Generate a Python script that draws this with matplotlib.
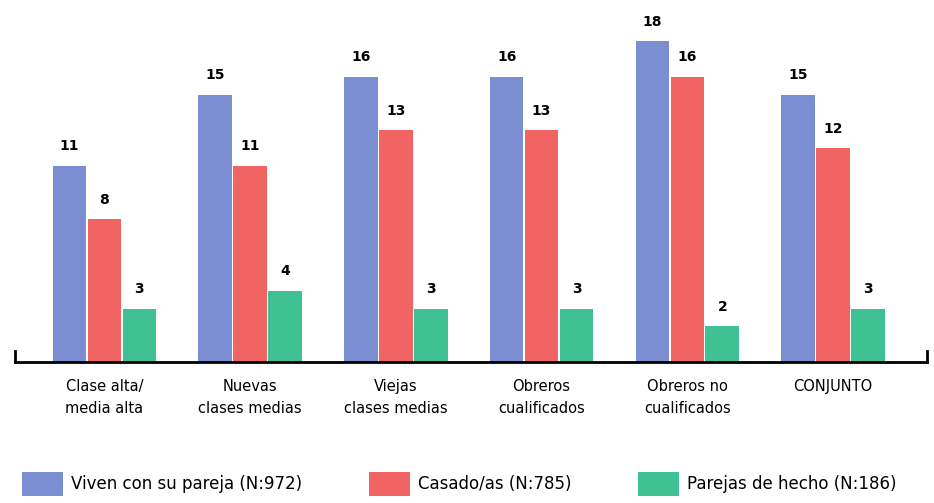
import matplotlib.pyplot as plt
import numpy as np
from matplotlib.patches import Patch

categories = ['Clase alta/\nmedia alta', 'Nuevas\nclases medias', 'Viejas\nclases medias',
              'Obreros\ncualificados', 'Obreros no\ncualificados', 'CONJUNTO']
viven_pareja = [11, 15, 16, 16, 18, 15]
casados = [8, 11, 13, 13, 16, 12]
parejas_hecho = [3, 4, 3, 3, 2, 3]
series_labels = ['Viven con su pareja (N:972)', 'Casado/as (N:785)', 'Parejas de hecho (N:186)']
colors = ['#7b8ed1', '#f06464', '#3fc194']

fig = plt.figure(figsize=(9.34, 5.03), dpi=100)
ax = fig.add_axes([15 / 934, 141 / 503, 912 / 934, 357 / 503])

x = np.arange(len(categories))
w = 0.24
for k, (vals, col) in enumerate(zip([viven_pareja, casados, parejas_hecho], colors)):
    pos = x + (k - 1) * w
    bars = ax.bar(pos, vals, width=w * 0.96, color=col, edgecolor='none')
    for b, v in zip(bars, vals):
        ax.annotate(str(v), (b.get_x() + b.get_width() / 2, v), xytext=(0, 9),
                    textcoords='offset points', ha='center', va='bottom',
                    fontsize=10, fontweight='bold')

ax.set_xlim(-0.614, 5.645)
ax.set_ylim(0, 20.02)
ax.set_yticks([])
ax.set_xticks(x)
ax.set_xticklabels(categories, fontsize=10.5, linespacing=1.6)
ax.tick_params(axis='x', length=0, pad=12)
ax.spines['top'].set_visible(False)
ax.spines['bottom'].set_linewidth(2)
for side in ['left', 'right']:
    ax.spines[side].set_bounds(0, 0.6)
    ax.spines[side].set_linewidth(2)

handles = [Patch(facecolor=c, edgecolor='none') for c in colors]
fig.legend(handles, series_labels, loc='lower left', bbox_to_anchor=(0.0075, -0.015),
           ncol=3, frameon=False, fontsize=12, handlelength=2.45, handleheight=1.8,
           columnspacing=4.0, handletextpad=0.5)

fig.savefig('out.png', dpi=100)
